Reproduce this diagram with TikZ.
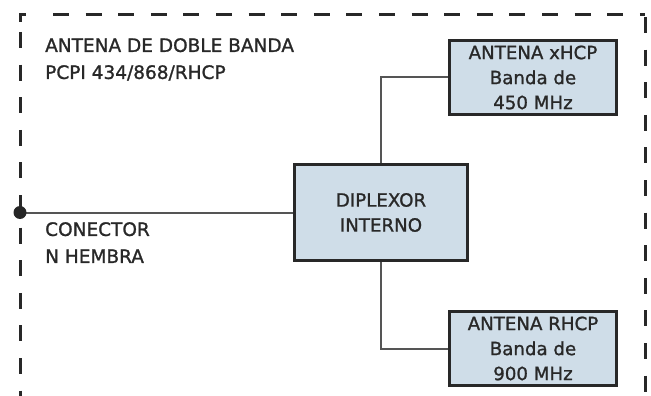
\documentclass[tikz,border=0pt]{standalone}
\usepackage{fontspec}
\setmainfont{DejaVu Sans}[BoldFont=DejaVu Sans, BoldFeatures={FakeBold=1.2}]

\definecolor{boxfill}{RGB}{207,221,232}
\definecolor{inkgray}{RGB}{40,40,40}
\definecolor{wiregray}{RGB}{85,85,85}

\tikzset{
  blockbox/.style={draw=inkgray, line width=3pt, fill=boxfill, align=center, inner sep=0pt,
    text=inkgray, font=\fontsize{18.2}{25}\selectfont\bfseries},
  plainlabel/.style={align=left, inner sep=0pt, text=inkgray, font=\fontsize{18.5}{27}\selectfont\bfseries},
  wire/.style={draw=wiregray, line width=2pt},
  border/.style={draw=inkgray, line width=3pt, dash pattern=on 16pt off 16.6pt}
}

\begin{document}
\begin{tikzpicture}[x=1pt,y=-1pt]
\useasboundingbox (0,0) rectangle (651,396);
\clip (0,0) rectangle (651,396);

%border%%%%%%%%%%%%%%%%%%%%%%%%%%%%%%%%%%%%%%%%%%%%%%%%%%%%%%%%%%%%%

\draw[draw=inkgray, line width=3pt] (20,22) |- (26,15); %corner
\draw[border] (53,15) -- (645,15); %top
\draw[border] (20,32) -- (20,420); %left
\draw[border] (645,17) -- (645,420); %right

%blocks%%%%%%%%%%%%%%%%%%%%%%%%%%%%%%%%%%%%%%%%%%%%%%%%%%%%%%%%%%%%%

\node[blockbox, minimum width=173pt, minimum height=96pt] (dip) at (381,212.5) {DIPLEXOR\\INTERNO};
\node[blockbox, minimum width=167pt, minimum height=74pt] (xhcp) at (533,77.5) {ANTENA xHCP\\Banda de\\450 MHz};
\node[blockbox, minimum width=167pt, minimum height=74pt] (rhcp) at (533,348.5) {ANTENA RHCP\\Banda de\\900 MHz};

%labels%%%%%%%%%%%%%%%%%%%%%%%%%%%%%%%%%%%%%%%%%%%%%%%%%%%%%%%%%%%%%

\node[plainlabel, anchor=north west] (title) at (45,38) {ANTENA DE DOBLE BANDA\\PCPI 434/868/RHCP};
\node[plainlabel, anchor=north west] (conlabel) at (45,222) {CONECTOR\\N HEMBRA};

%wiring%%%%%%%%%%%%%%%%%%%%%%%%%%%%%%%%%%%%%%%%%%%%%%%%%%%%%%%%%%%%%

\coordinate (conn) at (20,212.5);
\draw[wire] (conn) -- (dip.west);
\draw[wire] (dip.north) |- (xhcp.west);
\draw[wire] (dip.south) |- (rhcp.west);
\fill[black!85] (conn) circle (6.5pt); %connector

\end{tikzpicture}
\end{document}
